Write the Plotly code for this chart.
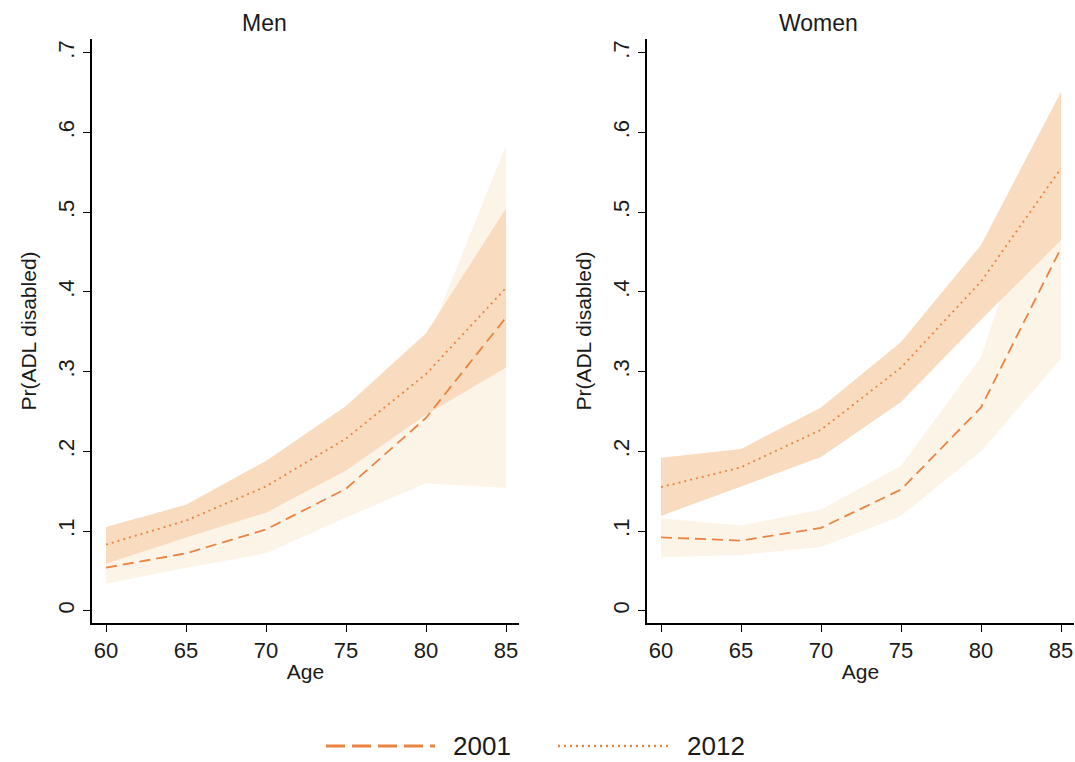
import plotly.graph_objects as go

ages = [60, 65, 70, 75, 80, 85]

# Men
men_2001 = [0.054, 0.072, 0.102, 0.153, 0.242, 0.368]
men_2001_lo = [0.034, 0.054, 0.072, 0.117, 0.160, 0.154]
men_2001_hi = [0.075, 0.092, 0.130, 0.190, 0.335, 0.584]
men_2012 = [0.083, 0.113, 0.156, 0.216, 0.297, 0.405]
men_2012_lo = [0.059, 0.092, 0.123, 0.176, 0.246, 0.305]
men_2012_hi = [0.105, 0.133, 0.188, 0.257, 0.348, 0.505]

# Women
wom_2001 = [0.092, 0.088, 0.104, 0.152, 0.255, 0.455]
wom_2001_lo = [0.067, 0.070, 0.080, 0.119, 0.200, 0.316]
wom_2001_hi = [0.116, 0.107, 0.127, 0.182, 0.318, 0.620]
wom_2012 = [0.155, 0.180, 0.227, 0.305, 0.413, 0.555]
wom_2012_lo = [0.119, 0.156, 0.193, 0.262, 0.365, 0.465]
wom_2012_hi = [0.192, 0.203, 0.255, 0.337, 0.459, 0.651]

ytick_vals = [0, 0.1, 0.2, 0.3, 0.4, 0.5, 0.6, 0.7]
ytick_text = ["0", ".1", ".2", ".3", ".4", ".5", ".6", ".7"]
xtick_vals = [60, 65, 70, 75, 80, 85]
panel_titles = ["Men", "Women"]
series_names = ["2001", "2012"]

LINE = "#EA8440"
DARK = "#F9DBBF"
LIGHT = "#FDF4E8"
FONT = "Liberation Sans, Arial, Helvetica, sans-serif"
TXT = "#1a1a1a"
W, H = 1075, 762

fig = go.Figure()


def add_panel(xa, ya, l01, lo01, hi01, l12, lo12, hi12):
    fig.add_trace(go.Scatter(x=ages + ages[::-1], y=hi01 + lo01[::-1], fill="toself",
                             fillcolor=LIGHT, line=dict(width=0), mode="lines",
                             xaxis=xa, yaxis=ya, showlegend=False, hoverinfo="skip"))
    fig.add_trace(go.Scatter(x=ages + ages[::-1], y=hi12 + lo12[::-1], fill="toself",
                             fillcolor=DARK, line=dict(width=0), mode="lines",
                             xaxis=xa, yaxis=ya, showlegend=False, hoverinfo="skip"))
    fig.add_trace(go.Scatter(x=ages, y=l01, mode="lines",
                             line=dict(color=LINE, width=1.8, dash="11px,6px"),
                             xaxis=xa, yaxis=ya, showlegend=False))
    fig.add_trace(go.Scatter(x=ages, y=l12, mode="lines",
                             line=dict(color=LINE, width=1.8, dash="2px,4px"),
                             xaxis=xa, yaxis=ya, showlegend=False))


add_panel("x", "y", men_2001, men_2001_lo, men_2001_hi, men_2012, men_2012_lo, men_2012_hi)
add_panel("x2", "y2", wom_2001, wom_2001_lo, wom_2001_hi, wom_2012, wom_2012_lo, wom_2012_hi)

ydom = [1 - 623 / H, 1 - 39 / H]
xr = [59.125, 85.81]
yr = [-0.0154, 0.7173]

axis_common = dict(showgrid=False, zeroline=False, showline=True, linecolor="black",
                   linewidth=1.5, ticks="outside", ticklen=7, tickwidth=1.3,
                   tickcolor="black", tickfont=dict(family=FONT, size=22, color=TXT))

xdefs = {"xaxis": [92 / W, 519 / W], "xaxis2": [647 / W, 1074 / W]}
for i, (k, dom) in enumerate(xdefs.items()):
    fig.layout[k] = dict(axis_common, domain=dom, range=xr, tickvals=xtick_vals,
                         anchor="y" if i == 0 else "y2",
                         title=dict(text="Age", font=dict(family=FONT, size=21, color=TXT),
                                    standoff=2))
for i, k in enumerate(["yaxis", "yaxis2"]):
    fig.layout[k] = dict(axis_common, domain=ydom, range=yr, tickvals=ytick_vals,
                         ticktext=ytick_text, tickangle=-90,
                         anchor="x" if i == 0 else "x2",
                         title=dict(text="Pr(ADL disabled)",
                                    font=dict(family=FONT, size=21, color=TXT),
                                    standoff=12))

annotations = []
for name, xc in zip(panel_titles, [264, 818]):
    annotations.append(dict(text=name, x=xc / W, y=1 - 23 / H, xref="paper", yref="paper",
                            showarrow=False, xanchor="center", yanchor="middle",
                            font=dict(family=FONT, size=23, color=TXT)))

# legend drawn manually
shapes = [
    dict(type="line", xref="paper", yref="paper", x0=326 / W, x1=435 / W,
         y0=1 - 746 / H, y1=1 - 746 / H, line=dict(color=LINE, width=3, dash="19px,7px")),
    dict(type="line", xref="paper", yref="paper", x0=558 / W, x1=668 / W,
         y0=1 - 746 / H, y1=1 - 746 / H, line=dict(color=LINE, width=2.5, dash="2px,4px")),
]
for name, xl in zip(series_names, [451, 685]):
    annotations.append(dict(text=name, x=xl / W, y=1 - 746 / H, xref="paper", yref="paper",
                            showarrow=False, xanchor="left", yanchor="middle",
                            font=dict(family=FONT, size=26, color=TXT)))

fig.update_layout(width=W, height=H, margin=dict(l=0, r=0, t=0, b=0),
                  paper_bgcolor="white", plot_bgcolor="white", showlegend=False,
                  annotations=annotations, shapes=shapes)

fig.write_html("out.html")
